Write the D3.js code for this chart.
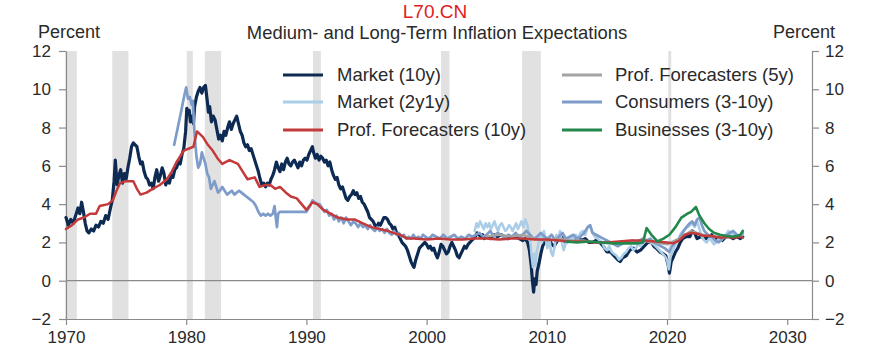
<!DOCTYPE html>
<html><head><meta charset="utf-8">
<script src="https://cdn.jsdelivr.net/npm/d3@7"></script>
<style>
html,body{margin:0;padding:0;background:#fff;}
svg{display:block;font-family:"Liberation Sans",Arial,sans-serif;}
</style></head>
<body>
<svg id="chart" width="869" height="357"></svg>
<script>
const titleText = "Medium- and Long-Term Inflation Expectations";
const yTicks = [-2, 0, 2, 4, 6, 8, 10, 12];
const xTicks = [1970, 1980, 1990, 2000, 2010, 2020, 2030];
const recessions = [[1969.95,1970.9],[1973.85,1975.2],[1980.05,1980.55],[1981.55,1982.9],[1990.55,1991.2],[2001.2,2001.9],[2007.95,2009.5],[2020.1,2020.35]];

const market10y = [[1970.0,3.3],[1970.2,2.9],[1970.4,3.2],[1970.6,3.0],[1970.8,3.4],[1971.0,3.8],[1971.15,3.5],[1971.3,4.1],[1971.45,3.6],[1971.6,3.0],[1971.75,2.6],[1971.9,2.5],[1972.1,2.7],[1972.3,2.6],[1972.5,2.9],[1972.7,2.8],[1972.9,3.1],[1973.1,3.0],[1973.3,3.4],[1973.5,3.2],[1973.7,3.8],[1973.85,4.2],[1974.0,5.2],[1974.1,6.3],[1974.25,5.0],[1974.4,5.5],[1974.55,5.8],[1974.7,5.1],[1974.85,5.6],[1975.0,5.3],[1975.15,5.9],[1975.3,6.4],[1975.45,7.0],[1975.6,7.2],[1975.75,7.1],[1975.9,7.0],[1976.05,6.5],[1976.2,6.1],[1976.35,6.2],[1976.5,5.7],[1976.65,5.4],[1976.8,5.3],[1976.95,5.0],[1977.1,5.1],[1977.25,4.8],[1977.4,5.4],[1977.55,5.8],[1977.7,5.2],[1977.85,5.5],[1978.0,5.9],[1978.15,5.6],[1978.3,5.0],[1978.45,5.3],[1978.6,5.1],[1978.75,5.5],[1978.9,5.4],[1979.05,5.8],[1979.2,5.9],[1979.35,6.2],[1979.5,6.1],[1979.65,6.6],[1979.8,6.9],[1979.95,7.8],[1980.05,9.0],[1980.15,8.7],[1980.25,8.9],[1980.35,8.3],[1980.5,8.6],[1980.6,8.2],[1980.7,9.1],[1980.85,9.6],[1981.0,9.9],[1981.15,10.1],[1981.3,9.8],[1981.45,10.1],[1981.6,10.2],[1981.75,9.4],[1981.85,8.8],[1981.95,9.1],[1982.1,8.3],[1982.25,8.6],[1982.4,8.4],[1982.55,7.9],[1982.7,7.4],[1982.85,7.6],[1983.0,7.3],[1983.15,7.8],[1983.3,7.6],[1983.45,8.0],[1983.6,8.3],[1983.75,7.9],[1983.9,8.2],[1984.05,8.4],[1984.2,8.6],[1984.35,8.2],[1984.5,7.8],[1984.65,7.6],[1984.8,7.2],[1984.95,7.0],[1985.1,7.1],[1985.25,6.8],[1985.4,6.9],[1985.55,6.6],[1985.7,6.3],[1985.85,6.0],[1986.0,5.7],[1986.15,5.3],[1986.3,5.0],[1986.45,5.1],[1986.6,4.9],[1986.75,5.1],[1986.9,5.0],[1987.05,5.3],[1987.2,5.5],[1987.35,5.8],[1987.5,6.2],[1987.65,5.9],[1987.8,5.7],[1987.95,6.1],[1988.1,5.8],[1988.25,6.2],[1988.4,6.4],[1988.55,6.1],[1988.7,6.0],[1988.85,6.2],[1989.0,6.3],[1989.15,6.1],[1989.3,5.9],[1989.45,6.2],[1989.6,6.0],[1989.75,6.3],[1989.9,6.4],[1990.05,6.3],[1990.2,6.6],[1990.35,6.8],[1990.5,7.0],[1990.6,6.7],[1990.75,6.4],[1990.9,6.6],[1991.05,6.3],[1991.2,6.5],[1991.35,6.4],[1991.5,6.2],[1991.65,6.3],[1991.8,6.0],[1991.95,6.2],[1992.1,5.8],[1992.25,5.5],[1992.4,5.3],[1992.55,5.4],[1992.7,5.0],[1992.85,4.8],[1993.0,4.9],[1993.15,4.6],[1993.3,4.3],[1993.45,4.2],[1993.6,4.4],[1993.75,4.5],[1993.9,4.7],[1994.05,4.5],[1994.2,4.6],[1994.35,4.3],[1994.5,4.4],[1994.65,4.1],[1994.8,4.0],[1994.95,3.8],[1995.1,3.6],[1995.25,3.3],[1995.4,3.2],[1995.55,3.1],[1995.7,2.9],[1995.85,2.8],[1996.0,3.0],[1996.15,2.9],[1996.3,3.1],[1996.45,3.3],[1996.6,3.3],[1996.75,3.2],[1996.9,3.0],[1997.05,2.9],[1997.2,2.7],[1997.35,2.8],[1997.5,2.5],[1997.65,2.4],[1997.8,2.2],[1997.95,2.0],[1998.1,1.9],[1998.25,1.8],[1998.4,1.6],[1998.55,1.3],[1998.7,1.0],[1998.85,0.8],[1998.95,0.7],[1999.1,1.1],[1999.25,1.4],[1999.4,1.7],[1999.55,1.8],[1999.7,1.9],[1999.85,2.0],[2000.0,1.9],[2000.15,1.7],[2000.3,1.8],[2000.45,1.6],[2000.6,1.7],[2000.75,1.4],[2000.9,1.2],[2001.05,1.5],[2001.2,1.9],[2001.35,1.8],[2001.5,1.6],[2001.65,1.4],[2001.8,1.5],[2001.95,1.8],[2002.1,2.0],[2002.25,1.8],[2002.4,1.6],[2002.55,1.3],[2002.7,1.2],[2002.85,1.4],[2003.0,1.6],[2003.15,1.8],[2003.3,1.7],[2003.45,1.9],[2003.6,2.0],[2003.75,2.1],[2003.9,2.2],[2004.05,2.3],[2004.2,2.5],[2004.35,2.4],[2004.5,2.3],[2004.65,2.4],[2004.8,2.2],[2005.0,2.3],[2005.3,2.2],[2005.6,2.4],[2005.9,2.3],[2006.2,2.4],[2006.5,2.3],[2006.8,2.2],[2007.1,2.3],[2007.4,2.3],[2007.7,2.2],[2008.0,2.1],[2008.2,2.2],[2008.4,2.0],[2008.55,1.6],[2008.7,0.8],[2008.8,0.0],[2008.9,-0.6],[2009.0,0.1],[2009.1,-0.2],[2009.2,0.5],[2009.35,0.9],[2009.5,1.4],[2009.65,1.8],[2009.8,2.0],[2010.0,2.1],[2010.2,2.2],[2010.4,1.9],[2010.6,1.8],[2010.8,2.0],[2011.0,2.2],[2011.2,2.3],[2011.4,2.1],[2011.6,2.0],[2011.8,2.1],[2012.0,2.2],[2012.3,2.1],[2012.6,2.2],[2012.9,2.1],[2013.2,2.2],[2013.5,2.0],[2013.8,2.0],[2014.1,2.1],[2014.4,2.0],[2014.7,1.8],[2015.0,1.5],[2015.3,1.5],[2015.6,1.3],[2015.9,1.1],[2016.1,1.0],[2016.3,1.2],[2016.6,1.3],[2016.9,1.6],[2017.2,1.7],[2017.5,1.5],[2017.8,1.6],[2018.1,1.8],[2018.4,2.0],[2018.7,2.0],[2018.9,1.8],[2019.1,1.7],[2019.4,1.5],[2019.7,1.4],[2019.9,1.3],[2020.1,0.8],[2020.2,0.4],[2020.35,1.0],[2020.5,1.2],[2020.7,1.5],[2020.9,1.7],[2021.1,2.0],[2021.3,2.2],[2021.6,2.3],[2021.9,2.3],[2022.1,2.6],[2022.3,2.5],[2022.5,2.2],[2022.8,2.3],[2023.1,2.2],[2023.4,2.2],[2023.7,2.4],[2024.0,2.2],[2024.3,2.2],[2024.6,2.1],[2024.9,2.3],[2025.2,2.3],[2025.5,2.2],[2025.8,2.3],[2026.1,2.2],[2026.3,2.3]];

const market2y1y = [[2004.0,2.6],[2004.15,3.0],[2004.3,2.8],[2004.45,3.1],[2004.6,2.9],[2004.75,2.7],[2004.9,3.0],[2005.05,2.8],[2005.2,3.0],[2005.35,2.7],[2005.5,2.9],[2005.65,3.1],[2005.8,2.8],[2005.95,2.6],[2006.1,2.9],[2006.25,3.0],[2006.4,2.8],[2006.55,2.6],[2006.7,2.7],[2006.85,2.9],[2007.0,2.8],[2007.15,2.6],[2007.3,2.8],[2007.45,3.0],[2007.6,2.7],[2007.75,2.9],[2007.9,3.1],[2008.05,2.8],[2008.2,3.2],[2008.35,3.0],[2008.5,2.5],[2008.65,1.9],[2008.75,1.2],[2008.85,0.7],[2008.95,1.4],[2009.05,0.8],[2009.15,1.5],[2009.3,1.9],[2009.45,2.4],[2009.6,2.0],[2009.75,2.6],[2009.9,2.2],[2010.05,1.7],[2010.2,2.3],[2010.35,1.5],[2010.5,1.3],[2010.65,1.8],[2010.8,2.4],[2010.95,2.1],[2011.1,2.6],[2011.25,2.0],[2011.4,1.6],[2011.55,1.9],[2011.7,2.2],[2011.85,2.0],[2012.0,2.3],[2012.2,2.1],[2012.4,2.4],[2012.6,2.2],[2012.8,2.5],[2013.0,2.6],[2013.2,2.4],[2013.4,2.8],[2013.6,2.9],[2013.8,2.5],[2014.0,2.3],[2014.2,2.2],[2014.4,2.1],[2014.6,2.0],[2014.8,1.7],[2015.0,1.6],[2015.2,1.8],[2015.4,1.5],[2015.6,1.4],[2015.8,1.3],[2016.0,1.1],[2016.2,1.2],[2016.4,1.4],[2016.6,1.5],[2016.8,1.7],[2017.0,1.8],[2017.2,1.6],[2017.4,1.7],[2017.6,1.9],[2017.8,1.8],[2018.0,2.0],[2018.3,2.1],[2018.6,2.0],[2018.9,1.9],[2019.2,1.7],[2019.5,1.5],[2019.8,1.3],[2020.0,1.1],[2020.15,0.6],[2020.3,1.3],[2020.5,1.6],[2020.7,1.9],[2020.9,2.1],[2021.1,2.4],[2021.3,2.6],[2021.5,2.7],[2021.7,2.8],[2021.9,2.9],[2022.1,3.0],[2022.3,2.8],[2022.5,3.1],[2022.7,2.7],[2022.9,2.3],[2023.1,2.1],[2023.3,2.0],[2023.5,2.2],[2023.7,2.1],[2023.9,1.9],[2024.1,2.0],[2024.3,2.2],[2024.5,2.1],[2024.7,2.3],[2024.9,2.4],[2025.1,2.6],[2025.3,2.4],[2025.5,2.5],[2025.7,2.3],[2025.9,2.4],[2026.1,2.3],[2026.3,2.4]];

const profForecasters10y = [[1970.0,2.7],[1970.5,2.9],[1971.0,3.2],[1971.5,3.3],[1972.0,3.5],[1972.5,3.5],[1972.8,3.9],[1973.5,4.0],[1973.9,4.2],[1974.2,4.7],[1974.5,5.1],[1975.0,5.2],[1975.6,5.2],[1975.9,4.8],[1976.2,4.5],[1976.7,4.6],[1977.2,4.8],[1977.8,5.0],[1978.4,5.3],[1978.8,5.7],[1979.2,6.2],[1979.8,6.8],[1980.6,7.0],[1980.9,7.8],[1981.4,7.5],[1981.8,7.1],[1982.2,6.8],[1982.6,6.4],[1983.0,6.1],[1983.6,6.3],[1984.3,6.1],[1984.7,5.7],[1985.1,5.3],[1985.7,5.4],[1986.1,4.9],[1986.6,5.0],[1987.0,5.0],[1987.4,4.8],[1987.8,4.9],[1988.3,4.6],[1988.7,4.4],[1989.2,4.3],[1989.6,4.0],[1990.0,3.7],[1990.5,4.1],[1990.9,4.0],[1991.4,3.7],[1992.0,3.5],[1992.6,3.3],[1993.4,3.2],[1994.0,3.2],[1994.7,3.0],[1995.4,2.8],[1996.1,2.7],[1996.8,2.6],[1997.2,2.5],[1997.8,2.4],[1998.4,2.2],[1999.0,2.2],[2000.0,2.15],[2001.0,2.2],[2002.0,2.15],[2003.0,2.15],[2004.0,2.2],[2005.0,2.2],[2006.0,2.15],[2007.0,2.2],[2008.0,2.2],[2009.0,2.15],[2010.0,2.15],[2011.0,2.1],[2012.0,2.05],[2013.0,2.05],[2014.0,2.0],[2015.0,2.0],[2016.0,2.05],[2017.0,2.1],[2018.0,2.1],[2019.0,2.05],[2020.0,2.0],[2020.5,1.95],[2021.0,2.1],[2021.5,2.4],[2022.0,2.5],[2022.5,2.45],[2023.0,2.35],[2023.5,2.35],[2024.0,2.3],[2024.5,2.25],[2025.0,2.3],[2025.5,2.25],[2026.0,2.3],[2026.3,2.25]];

const profForecasters5y = [[2005.0,2.3],[2006.0,2.4],[2007.0,2.3],[2008.0,2.4],[2009.0,2.2],[2010.0,2.1],[2011.0,2.2],[2012.0,2.1],[2013.0,2.1],[2014.0,2.0],[2015.0,2.0],[2016.0,2.0],[2017.0,2.0],[2018.0,2.1],[2019.0,2.0],[2020.0,1.9],[2021.0,2.2],[2022.0,2.6],[2023.0,2.4],[2024.0,2.3],[2025.0,2.3],[2026.0,2.3]];

const consumers = [[1979.0,7.1],[1979.3,8.0],[1979.6,8.9],[1979.85,9.7],[1980.0,10.1],[1980.15,9.5],[1980.3,9.6],[1980.45,9.2],[1980.55,9.4],[1980.7,7.6],[1980.85,6.5],[1981.0,5.9],[1981.15,6.1],[1981.3,6.7],[1981.45,6.4],[1981.6,6.1],[1981.75,5.6],[1981.9,5.4],[1982.05,4.8],[1982.2,5.0],[1982.35,5.2],[1982.5,4.9],[1982.65,4.6],[1982.8,4.7],[1983.0,4.9],[1983.2,4.7],[1983.4,4.5],[1983.6,4.6],[1983.8,4.7],[1984.0,4.5],[1984.2,4.6],[1984.4,4.7],[1984.6,4.6],[1984.8,4.5],[1985.0,4.4],[1985.2,4.3],[1985.4,4.2],[1985.6,4.1],[1985.8,3.9],[1986.0,3.6],[1986.2,3.4],[1986.4,3.5],[1986.6,3.4],[1986.8,3.5],[1987.0,3.4],[1987.2,3.5],[1987.35,3.9],[1987.45,3.3],[1987.55,2.8],[1987.65,3.5],[1987.8,3.6],[1988.0,3.6],[1989.0,3.6],[1990.0,3.6],[1990.3,3.9],[1990.5,4.2],[1990.7,4.1],[1990.9,4.0],[1991.1,4.0],[1991.3,3.8],[1991.5,3.6],[1991.7,3.7],[1991.9,3.4],[1992.1,3.5],[1992.3,3.2],[1992.5,3.4],[1992.7,3.1],[1992.9,3.3],[1993.1,3.0],[1993.3,3.3],[1993.5,3.1],[1993.7,2.9],[1993.9,3.1],[1994.1,3.0],[1994.3,2.8],[1994.5,3.0],[1994.7,2.8],[1994.9,2.9],[1995.1,2.7],[1995.3,2.9],[1995.5,2.7],[1995.7,2.6],[1995.9,2.8],[1996.1,2.6],[1996.3,2.7],[1996.5,2.5],[1996.7,2.7],[1996.9,2.5],[1997.1,2.4],[1997.3,2.6],[1997.5,2.4],[1997.7,2.5],[1997.9,2.3],[1998.1,2.4],[1998.3,2.2],[1998.5,2.3],[1998.7,2.2],[1998.9,2.4],[1999.1,2.2],[1999.3,2.3],[1999.5,2.2],[1999.7,2.4],[1999.9,2.3],[2000.2,2.2],[2000.5,2.4],[2000.8,2.3],[2001.1,2.2],[2001.4,2.4],[2001.7,2.2],[2002.0,2.3],[2002.3,2.4],[2002.6,2.2],[2002.9,2.3],[2003.2,2.2],[2003.5,2.4],[2003.8,2.3],[2004.1,2.4],[2004.4,2.5],[2004.7,2.3],[2005.0,2.4],[2005.3,2.6],[2005.6,2.3],[2005.9,2.5],[2006.2,2.4],[2006.5,2.2],[2006.8,2.4],[2007.1,2.3],[2007.4,2.5],[2007.7,2.3],[2008.0,2.4],[2008.3,2.6],[2008.6,2.4],[2008.9,2.2],[2009.2,2.3],[2009.5,2.5],[2009.8,2.3],[2010.1,2.2],[2010.4,2.4],[2010.7,2.1],[2011.0,2.3],[2011.3,2.5],[2011.6,2.2],[2011.9,2.3],[2012.2,2.4],[2012.5,2.2],[2012.8,2.3],[2013.1,2.5],[2013.4,2.8],[2013.6,2.9],[2013.8,2.5],[2014.1,2.4],[2014.4,2.3],[2014.7,2.2],[2015.0,2.1],[2015.3,2.0],[2015.6,1.9],[2015.9,1.8],[2016.2,1.9],[2016.5,2.0],[2016.8,2.0],[2017.1,2.1],[2017.4,2.0],[2017.7,2.1],[2018.0,2.2],[2018.3,2.1],[2018.6,2.2],[2018.9,2.0],[2019.2,1.9],[2019.5,1.8],[2019.8,1.7],[2020.0,1.6],[2020.2,1.5],[2020.4,1.8],[2020.7,2.0],[2021.0,2.2],[2021.3,2.5],[2021.6,2.8],[2021.9,3.0],[2022.1,3.1],[2022.3,2.9],[2022.5,3.2],[2022.7,3.3],[2022.9,2.9],[2023.1,2.6],[2023.4,2.4],[2023.7,2.3],[2024.0,2.1],[2024.3,2.0],[2024.6,2.2],[2024.9,2.3],[2025.2,2.5],[2025.5,2.6],[2025.8,2.4],[2026.1,2.3],[2026.3,2.5]];

const businesses = [[2011.6,2.05],[2012.5,2.0],[2013.5,2.05],[2014.5,2.0],[2015.5,1.95],[2016.5,1.95],[2017.5,1.95],[2018.0,2.0],[2018.3,2.75],[2018.7,2.4],[2019.2,2.05],[2019.7,2.2],[2020.2,2.4],[2020.7,2.8],[2021.2,3.3],[2021.7,3.5],[2022.0,3.6],[2022.4,3.85],[2022.7,3.4],[2023.1,3.0],[2023.5,2.7],[2023.9,2.5],[2024.4,2.4],[2024.9,2.35],[2025.4,2.3],[2025.9,2.35],[2026.1,2.4],[2026.3,2.6]];

const seriesNames = ["Market (10y)","Market (2y1y)","Prof. Forecasters (10y)","Prof. Forecasters (5y)","Consumers (3-10y)","Businesses (3-10y)"];
const seriesData = [market10y, market2y1y, profForecasters10y, profForecasters5y, consumers, businesses];
const seriesColors = ["#0d2b52","#aacde8","#c43a3a","#a3a3a3","#7e9cc9","#22884c"];
const seriesWidths = [3.2, 2.6, 2.5, 2.4, 2.7, 2.6];
const drawOrder = [0, 1, 4, 3, 2, 5];

const svg = d3.select("#chart");
const x = d3.scaleLinear().domain([1970, 2032.06]).range([66, 812]);
const y = d3.scaleLinear().domain([-2, 12]).range([319, 51]);
const axisColor = "#8a8a8a";
const textColor = "#2a2a2a";

// recession bands
svg.append("g").selectAll("rect").data(recessions).join("rect")
  .attr("x", d => x(d[0])).attr("width", d => x(d[1]) - x(d[0]))
  .attr("y", y(12)).attr("height", y(-2) - y(12))
  .attr("fill", "#e1e1e1");

// zero line
svg.append("line").attr("x1", x(1970)).attr("x2", x(2032.06))
  .attr("y1", y(0)).attr("y2", y(0)).attr("stroke", axisColor).attr("stroke-width", 1.2);

// axes
function styleAxis(g){
  g.selectAll(".domain").attr("stroke", axisColor).attr("stroke-width", 1.2);
  g.selectAll(".tick line").attr("stroke", axisColor).attr("stroke-width", 1.2);
  g.selectAll(".tick text").attr("fill", textColor).style("font-size", "17px")
    .style("font-family", "'Liberation Sans', Arial, sans-serif");
}
svg.append("g").attr("transform", `translate(0,${y(-2)})`)
  .call(d3.axisBottom(x).tickValues(xTicks).tickFormat(d3.format("d")).tickSize(6).tickSizeOuter(0).tickPadding(6))
  .call(styleAxis);
svg.append("g").attr("transform", `translate(${x(1970)},0)`)
  .call(d3.axisLeft(y).tickValues(yTicks).tickSize(7).tickSizeOuter(0).tickPadding(8))
  .call(styleAxis);
svg.append("g").attr("transform", `translate(${x(2032.06)},0)`)
  .call(d3.axisRight(y).tickValues(yTicks).tickSize(7).tickSizeOuter(0).tickPadding(6))
  .call(styleAxis);

// lines
const line = d3.line().x(d => x(d[0])).y(d => y(d[1]));
const linesG = svg.append("g").attr("fill", "none").attr("stroke-linejoin", "round").attr("stroke-linecap", "round");
drawOrder.forEach(i => {
  linesG.append("path").datum(seriesData[i])
    .attr("d", line).attr("stroke", seriesColors[i]).attr("stroke-width", seriesWidths[i]);
});

// legend
const legendCols = [[283, 337], [562, 615]];
const legendRows = [75, 102, 130];
const lg = svg.append("g");
seriesNames.forEach((name, k) => {
  const col = legendCols[Math.floor(k / 3)], ry = legendRows[k % 3];
  lg.append("line").attr("x1", col[0]).attr("x2", col[0] + 40).attr("y1", ry).attr("y2", ry)
    .attr("stroke", seriesColors[k]).attr("stroke-width", 3);
  lg.append("text").attr("x", col[1]).attr("y", ry + 6).text(name)
    .attr("fill", textColor).style("font-size", "18.5px");
});

// title and unit labels
svg.append("text").attr("x", 437).attr("y", 38.5).attr("text-anchor", "middle")
  .attr("fill", textColor).style("font-size", "18.4px").text(titleText);
svg.append("text").attr("x", 38).attr("y", 38).attr("fill", textColor).style("font-size", "18px").text("Percent");
svg.append("text").attr("x", 773).attr("y", 38).attr("fill", textColor).style("font-size", "18px").text("Percent");
svg.append("text").attr("x", 435).attr("y", 17.5).attr("text-anchor", "middle")
  .attr("fill", "#e0201e").style("font-size", "19px").text("L70.CN");
</script>
</body></html>
